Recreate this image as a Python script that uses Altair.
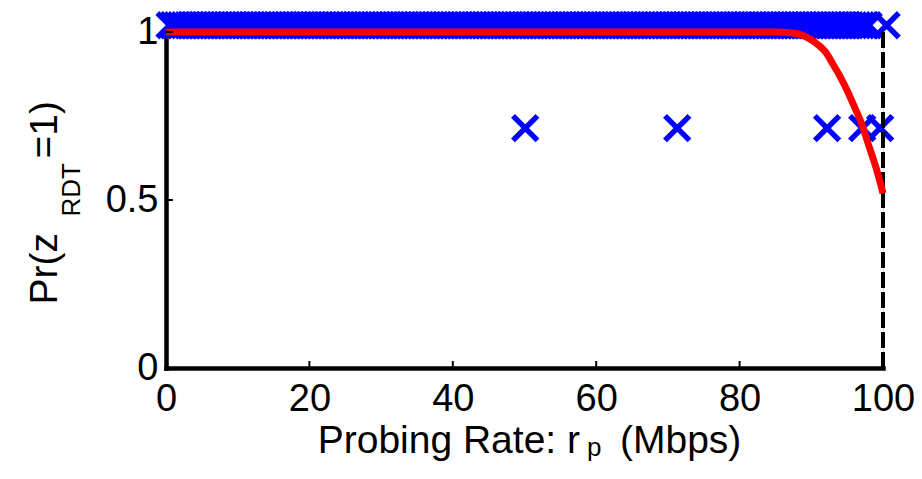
import altair as alt
import pandas as pd

# ---- data ----
top_x = [
    0.5, 1.0, 1.5, 2.0, 2.5, 3.0, 3.5, 4.0, 4.5, 5.0,
    5.5, 6.0, 6.5, 7.0, 7.5, 8.0, 8.5, 9.0, 9.5, 10.0,
    10.5, 11.0, 11.5, 12.0, 12.5, 13.0, 13.5, 14.0, 14.5, 15.0,
    15.5, 16.0, 16.5, 17.0, 17.5, 18.0, 18.5, 19.0, 19.5, 20.0,
    20.5, 21.0, 21.5, 22.0, 22.5, 23.0, 23.5, 24.0, 24.5, 25.0,
    25.5, 26.0, 26.5, 27.0, 27.5, 28.0, 28.5, 29.0, 29.5, 30.0,
    30.5, 31.0, 31.5, 32.0, 32.5, 33.0, 33.5, 34.0, 34.5, 35.0,
    35.5, 36.0, 36.5, 37.0, 37.5, 38.0, 38.5, 39.0, 39.5, 40.0,
    40.5, 41.0, 41.5, 42.0, 42.5, 43.0, 43.5, 44.0, 44.5, 45.0,
    45.5, 46.0, 46.5, 47.0, 47.5, 48.0, 48.5, 49.0, 49.5, 50.0,
    50.5, 51.0, 51.5, 52.0, 52.5, 53.0, 53.5, 54.0, 54.5, 55.0,
    55.5, 56.0, 56.5, 57.0, 57.5, 58.0, 58.5, 59.0, 59.5, 60.0,
    60.5, 61.0, 61.5, 62.0, 62.5, 63.0, 63.5, 64.0, 64.5, 65.0,
    65.5, 66.0, 66.5, 67.0, 67.5, 68.0, 68.5, 69.0, 69.5, 70.0,
    70.5, 71.0, 71.5, 72.0, 72.5, 73.0, 73.5, 74.0, 74.5, 75.0,
    75.5, 76.0, 76.5, 77.0, 77.5, 78.0, 78.5, 79.0, 79.5, 80.0,
    80.5, 81.0, 81.5, 82.0, 82.5, 83.0, 83.5, 84.0, 84.5, 85.0,
    85.5, 86.0, 86.5, 87.0, 87.5, 88.0, 88.5, 89.0, 89.5, 90.0,
    90.5, 91.0, 91.5, 92.0, 92.5, 93.0, 93.5, 94.0, 94.5, 95.0,
    95.5, 96.0, 96.5, 97.0, 97.5, 98.0, 100.5,
]
top_level = 1.02
mid_x = [50.1, 71.3, 92.2, 97.1, 99.6]
mid_level = 0.714

curve_x = [0, 85, 87, 88, 89, 90, 91, 92, 93, 94, 95, 96, 97, 98, 99, 100]
curve_y = [1.0, 1.0, 0.998, 0.995, 0.988, 0.977, 0.961, 0.94, 0.905, 0.868,
           0.826, 0.778, 0.728, 0.663, 0.598, 0.52]

capacity_x = [100]
capacity_y0 = [0]
capacity_y1 = [1.0]

x_ticks = [0, 20, 40, 60, 80, 100]
y_ticks = [0, 0.5, 1]

# ---- tables ----
cross_df = pd.DataFrame({
    "x": top_x + mid_x,
    "y": [top_level] * len(top_x) + [mid_level] * len(mid_x),
})
curve_df = pd.DataFrame({"x": curve_x, "y": curve_y})
cap_df = pd.DataFrame({"x": capacity_x, "y": capacity_y0, "y2": capacity_y1})
xt_df = pd.DataFrame({"t": x_ticks})
yt_df = pd.DataFrame({"t": y_ticks})

FONT = "Liberation Sans"
W, H = 717, 336

xscale = alt.Scale(domain=[0, 100], nice=False, zero=False)
yscale = alt.Scale(domain=[0, 1], nice=False, zero=False)

x_axis = alt.Axis(values=x_ticks, format="d", title=None, grid=False, ticks=False,
                  tickSize=0, labelPadding=12, labelFontSize=38, labelFont=FONT,
                  labelColor="black", labelFlush=False, labelOverlap=False,
                  labelBound=False, domainColor="black", domainWidth=4.5,
                  domainCap="square")
y_axis = alt.Axis(values=y_ticks, format=".1~f", title=None, grid=False, ticks=False,
                  tickSize=0, labelPadding=8, labelFontSize=38, labelFont=FONT,
                  labelColor="black", labelOverlap=False, labelBound=False,
                  domainColor="black", domainWidth=4.5, domainCap="square")

crosses = alt.Chart(cross_df).mark_point(
    shape="M-1,-1L1,1M-1,1L1,-1", size=600, filled=False, color="#0000ff",
    strokeWidth=5.5, opacity=1,
).encode(
    x=alt.X("x:Q", scale=xscale, axis=x_axis),
    y=alt.Y("y:Q", scale=yscale, axis=y_axis),
)

cap_line = alt.Chart(cap_df).mark_rule(
    color="black", strokeWidth=4, strokeDash=[16, 4]
).encode(
    x=alt.X("x:Q", scale=xscale),
    y=alt.Y("y:Q", scale=yscale),
    y2="y2:Q",
)

curve = alt.Chart(curve_df).mark_line(
    color="#ff0000", strokeWidth=7, interpolate="monotone"
).encode(
    x=alt.X("x:Q", scale=xscale),
    y=alt.Y("y:Q", scale=yscale),
)

xticks = alt.Chart(xt_df).mark_rule(color="black", strokeWidth=2).encode(
    x=alt.X("t:Q", scale=xscale), y=alt.value(H), y2=alt.value(H - 7)
)
yticks = alt.Chart(yt_df).mark_rule(color="black", strokeWidth=2).encode(
    y=alt.Y("t:Q", scale=yscale), x=alt.value(0), x2=alt.value(7)
)


def txt(s, x, y, size, align, angle=0):
    return alt.Chart(pd.DataFrame({"s": [s]})).mark_text(
        font=FONT, fontSize=size, color="black", align=align,
        baseline="alphabetic", angle=angle,
    ).encode(text="s:N", x=alt.value(x), y=alt.value(y))


labels = [
    txt("Probing Rate: r", 414, 421, 39, "right"),
    txt("p", 421, 424, 26, "left"),
    txt("(Mbps)", 454, 421, 39, "left"),
    txt("Pr(z", -109, 201, 39, "right", 270),
    txt("RDT", -86, 131, 26, "right", 270),
    txt("=1)", -109, 69, 39, "right", 270),
]

chart = alt.layer(
    crosses, cap_line, curve, xticks, yticks, *labels
).properties(
    width=W, height=H,
    padding={"left": 158, "top": 24, "right": 31, "bottom": 97},
    autosize=alt.AutoSizeParams(type="none"),
).configure_view(stroke=None).configure(background="white")

chart.save("out.html", embed_options={"renderer": "svg", "actions": False})
